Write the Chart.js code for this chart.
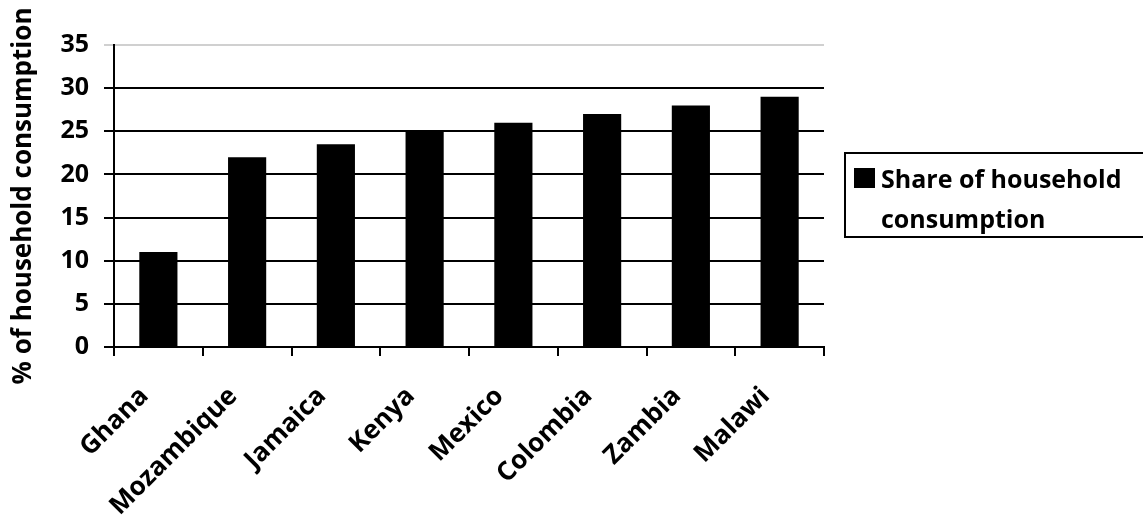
<!DOCTYPE html>
<html lang="en">
<head>
  <meta charset="UTF-8" />
  <title>Share of household consumption</title>
  <script src="https://cdn.jsdelivr.net/npm/chart.js"></script>
  <style>
    html, body {
      margin: 0;
      padding: 0;
      background: #ffffff;
    }
    .wrap {
      position: relative;
      width: 1143px;
      height: 522px;
      overflow: hidden;
    }
    /* legend box on the right */
    .legend {
      position: absolute;
      left: 844px;
      top: 152px;
      width: 320px;
      height: 86px;
      border: 2px solid #000;
      font-family: "Open Sans", sans-serif;
      font-weight: bold;
      font-size: 25px;
      line-height: 40px;
      color: #000;
      box-sizing: border-box;
    }
    .legend .sw {
      position: absolute;
      left: 8px;
      top: 14px;
      width: 21px;
      height: 20px;
      background: #000;
    }
    .legend .txt {
      position: absolute;
      left: 35px;
      top: 4px;
      white-space: nowrap;
    }
  </style>
</head>
<body>
  <div class="wrap">
    <canvas id="chart" width="1143" height="522"></canvas>
    <div class="legend" id="legend"></div>
  </div>

  <script>
    // data
    const countries = ['Ghana', 'Mozambique', 'Jamaica', 'Kenya', 'Mexico', 'Colombia', 'Zambia', 'Malawi'];
    const shareValues = [11, 22, 23.5, 25, 26, 27, 28, 29];
    const seriesName = ['Share of household', 'consumption'];
    const yTitle = '% of household consumption';

    const font = '"Open Sans", sans-serif';

    const ctx = document.getElementById('chart').getContext('2d');
    new Chart(ctx, {
      type: 'bar',
      data: {
        labels: countries,
        datasets: [{
          label: seriesName.join(' '),
          data: shareValues,
          backgroundColor: '#000',
          borderWidth: 0,
          barPercentage: 0.43,
          categoryPercentage: 1.0,
        }],
      },
      options: {
        responsive: false,
        animation: false,
        layout: { padding: { top: 45, left: 0, right: 319, bottom: 0 } },
        plugins: {
          legend: { display: false },
          tooltip: { enabled: false },
        },
        scales: {
          x: {
            offset: true,
            grid: {
              offset: true,
              drawOnChartArea: false,
              drawTicks: true,
              tickLength: 9,
              color: '#000',
              lineWidth: 2,
            },
            border: { color: '#000', width: 2 },
            ticks: {
              color: '#000',
              font: { family: font, weight: 'bold', size: 26 },
              maxRotation: 45,
              minRotation: 45,
              padding: 25,
              labelOffset: -14,
            },
            afterFit: s => { s.height = 175; },
          },
          y: {
            min: 0,
            max: 35,
            ticks: {
              stepSize: 5,
              color: '#000',
              font: { family: font, weight: 'bold', size: 25 },
              padding: 15,
            },
            grid: {
              color: c => (c.tick && c.tick.value === 35 ? '#d0d0d0' : '#000'),
              lineWidth: 2,
              tickLength: 10,
            },
            border: { color: '#000', width: 2 },
            title: {
              display: true,
              text: yTitle,
              color: '#000',
              font: { family: font, weight: 'bold', size: 26 },
              padding: { top: 8, bottom: 0 },
            },
            afterFit: s => { s.width = 114; },
          },
        },
      },
    });

    // legend from the series name
    const lg = document.getElementById('legend');
    lg.innerHTML = '<div class="sw"></div><div class="txt">' + seriesName.join('<br>') + '</div>';
  </script>
</body>
</html>
